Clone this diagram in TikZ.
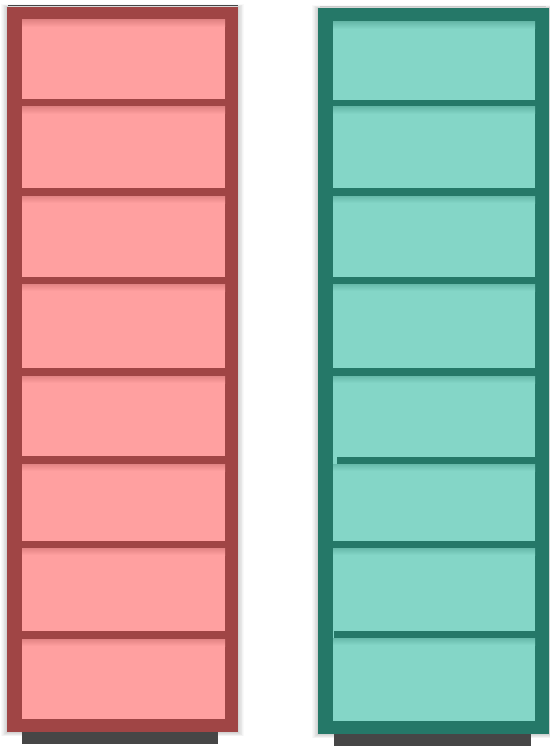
\documentclass[tikz,border=0pt]{standalone}
\usetikzlibrary{calc}
\definecolor{shelfred}{HTML}{A04545}
\definecolor{cellred}{HTML}{FFA0A0}
\definecolor{shelfgreen}{HTML}{257868}
\definecolor{cellgreen}{HTML}{84D6C7}
\definecolor{basegray}{HTML}{464646}
\begin{document}
\begin{tikzpicture}[
      x=1pt,y=-1pt,
      frame/.style={fill=#1},
      cell/.style={fill=#1},
      plank/.style={fill=#1},
      plinth/.style={fill=basegray},
      halo/.style={fill=black,opacity=0.022}
    ]
    \useasboundingbox (0,0) rectangle (549,749);
    % soft shadow round both cases
    \foreach \xl/\xr/\yt/\yb in {7/238/7/732,318/549/8/734}{
      \foreach \d in {1,...,8}{\fill[halo] (\xl-\d*0.7,\yt-\d/3) rectangle (\xr+\d*0.7,\yb+\d/2);}}
    \draw[basegray,line width=1.2pt] (8,5.5) -- (238,5.5);
    \draw[black!20,line width=1pt] (320,6.5) -- (546,6.5);
    % plinths
    \fill[plinth] (22,731) rectangle (218,744);
    \fill[plinth] (334,733) rectangle (531,746);
    % red case
    \fill[frame=shelfred] (7,7) rectangle (238,732);
    \fill[cell=cellred] (22,20) rectangle (225,719);
    \foreach \a/\b in {99/107,188/196,277/284,368/376,456/464,541/548,631/639}{
      \fill[plank=shelfred] (22,\a) rectangle (226,\b);
      \shade[top color=cellred!70!shelfred,bottom color=cellred] (22,\b) rectangle (225,\b+7);}
    \shade[top color=cellred!70!shelfred,bottom color=cellred] (22,20) rectangle (225,27);
    % green case
    \fill[frame=shelfgreen] (318,8) rectangle (549,734);
    \fill[cell=cellgreen] (333,22) rectangle (535,721);
    \foreach \s/\a/\b in {333/100/107,333/188/196,333/277/284,333/368/376,337/457/464,333/541/548,334/631/638}{
      \fill[plank=shelfgreen] (\s,\a) rectangle (536,\b);
      \shade[top color=cellgreen!70!shelfgreen,bottom color=cellgreen] (333,\b) rectangle (535,\b+7);}
    \shade[top color=cellgreen!70!shelfgreen,bottom color=cellgreen] (333,22) rectangle (535,29);
  \end{tikzpicture}
\end{document}
